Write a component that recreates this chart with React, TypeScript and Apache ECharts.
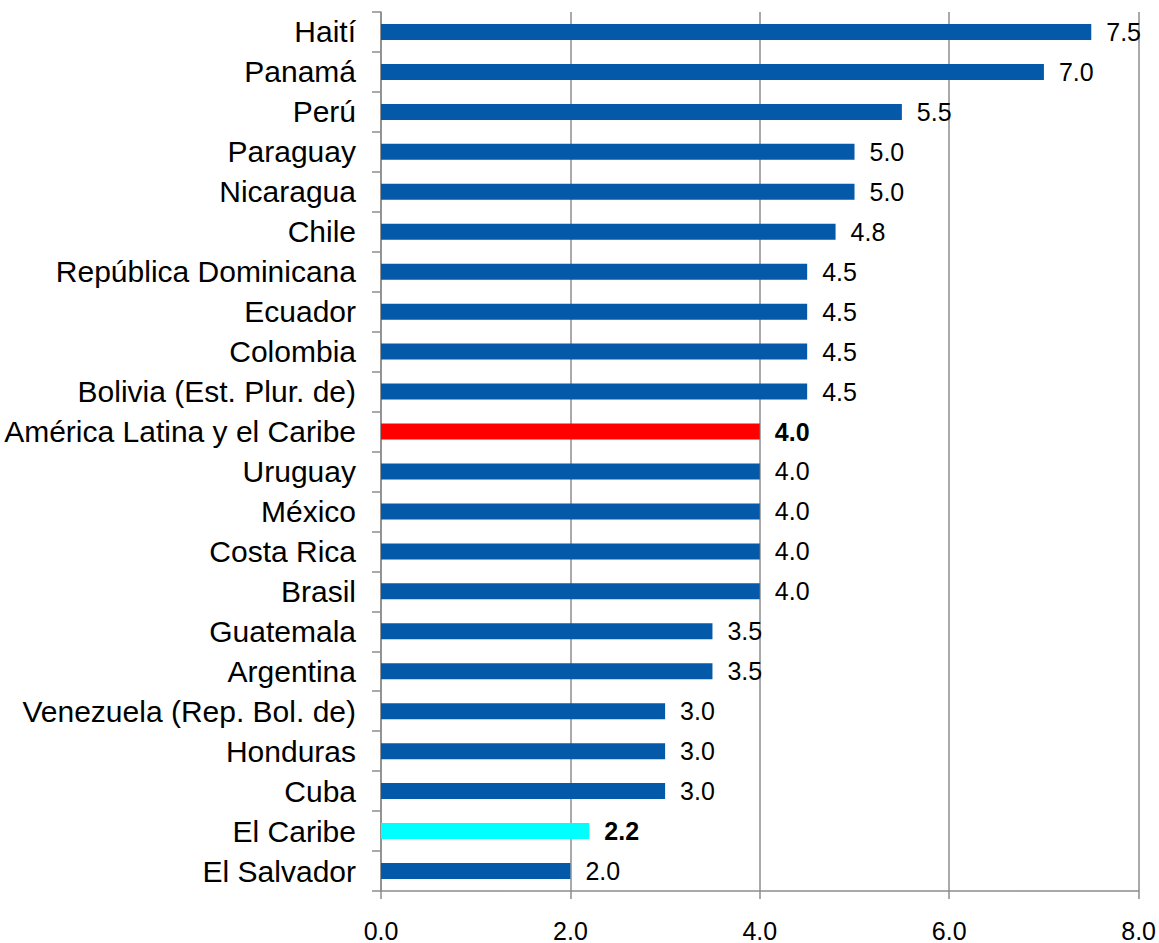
import React, { useEffect, useRef } from "react";
import * as echarts from "echarts";

const categories = [
  "Haití",
  "Panamá",
  "Perú",
  "Paraguay",
  "Nicaragua",
  "Chile",
  "República Dominicana",
  "Ecuador",
  "Colombia",
  "Bolivia (Est. Plur. de)",
  "América Latina y el Caribe",
  "Uruguay",
  "México",
  "Costa Rica",
  "Brasil",
  "Guatemala",
  "Argentina",
  "Venezuela (Rep. Bol. de)",
  "Honduras",
  "Cuba",
  "El Caribe",
  "El Salvador",
];

const values = [7.5, 7.0, 5.5, 5.0, 5.0, 4.8, 4.5, 4.5, 4.5, 4.5, 4.0, 4.0, 4.0, 4.0, 4.0, 3.5, 3.5, 3.0, 3.0, 3.0, 2.2, 2.0];

const highlightColors: Record<string, string> = {
  "América Latina y el Caribe": "#ff0000",
  "El Caribe": "#00ffff",
};

const xTicks = { min: 0, max: 8, interval: 2 };

export default function App() {
  const ref = useRef<HTMLDivElement>(null);
  useEffect(() => {
    if (!ref.current) return;
    const chart = echarts.init(ref.current, undefined, { renderer: "svg" });
    const font = "'Liberation Sans', Arial, sans-serif";
    const data = values.map((v, i) => {
      const name = categories[i];
      const hl = highlightColors[name];
      return {
        value: v,
        itemStyle: { color: hl || "#0559a9" },
        label: hl ? { fontWeight: "bold" } : undefined,
      };
    });
    chart.setOption({
      animation: false,
      grid: { left: 381, right: 20, top: 12, bottom: 52, containLabel: false },
      xAxis: {
        type: "value",
        min: xTicks.min,
        max: xTicks.max,
        interval: xTicks.interval,
        axisLine: { show: true, lineStyle: { color: "#8c8c8c", width: 1.5 } },
        axisTick: { show: true, length: 8, lineStyle: { color: "#8c8c8c", width: 1.5 } },
        splitLine: { show: true, lineStyle: { color: "#8c8c8c", width: 1.5 } },
        axisLabel: {
          margin: 27,
          fontSize: 25,
          fontFamily: font,
          color: "#000",
          formatter: (v: number) => v.toFixed(1),
        },
      },
      yAxis: {
        type: "category",
        data: categories,
        inverse: true,
        axisLine: { show: true, lineStyle: { color: "#8c8c8c", width: 1.5 } },
        axisTick: { show: true, length: 9, alignWithLabel: false, lineStyle: { color: "#8c8c8c", width: 1.5 } },
        axisLabel: {
          margin: 25,
          fontSize: 30,
          fontFamily: font,
          color: "#000",
          interval: 0,
        },
      },
      series: [
        {
          type: "bar",
          data,
          barWidth: 16,
          label: {
            show: true,
            position: "right",
            distance: 15,
            fontSize: 25,
            fontFamily: font,
            color: "#000",
            formatter: (p: any) => Number(p.value).toFixed(1),
          },
        },
      ],
    });
    return () => chart.dispose();
  }, []);
  return (
    <div
      ref={ref}
      style={{ position: "fixed", left: 0, top: 0, width: 1159, height: 943, background: "#fff" }}
    />
  );
}
